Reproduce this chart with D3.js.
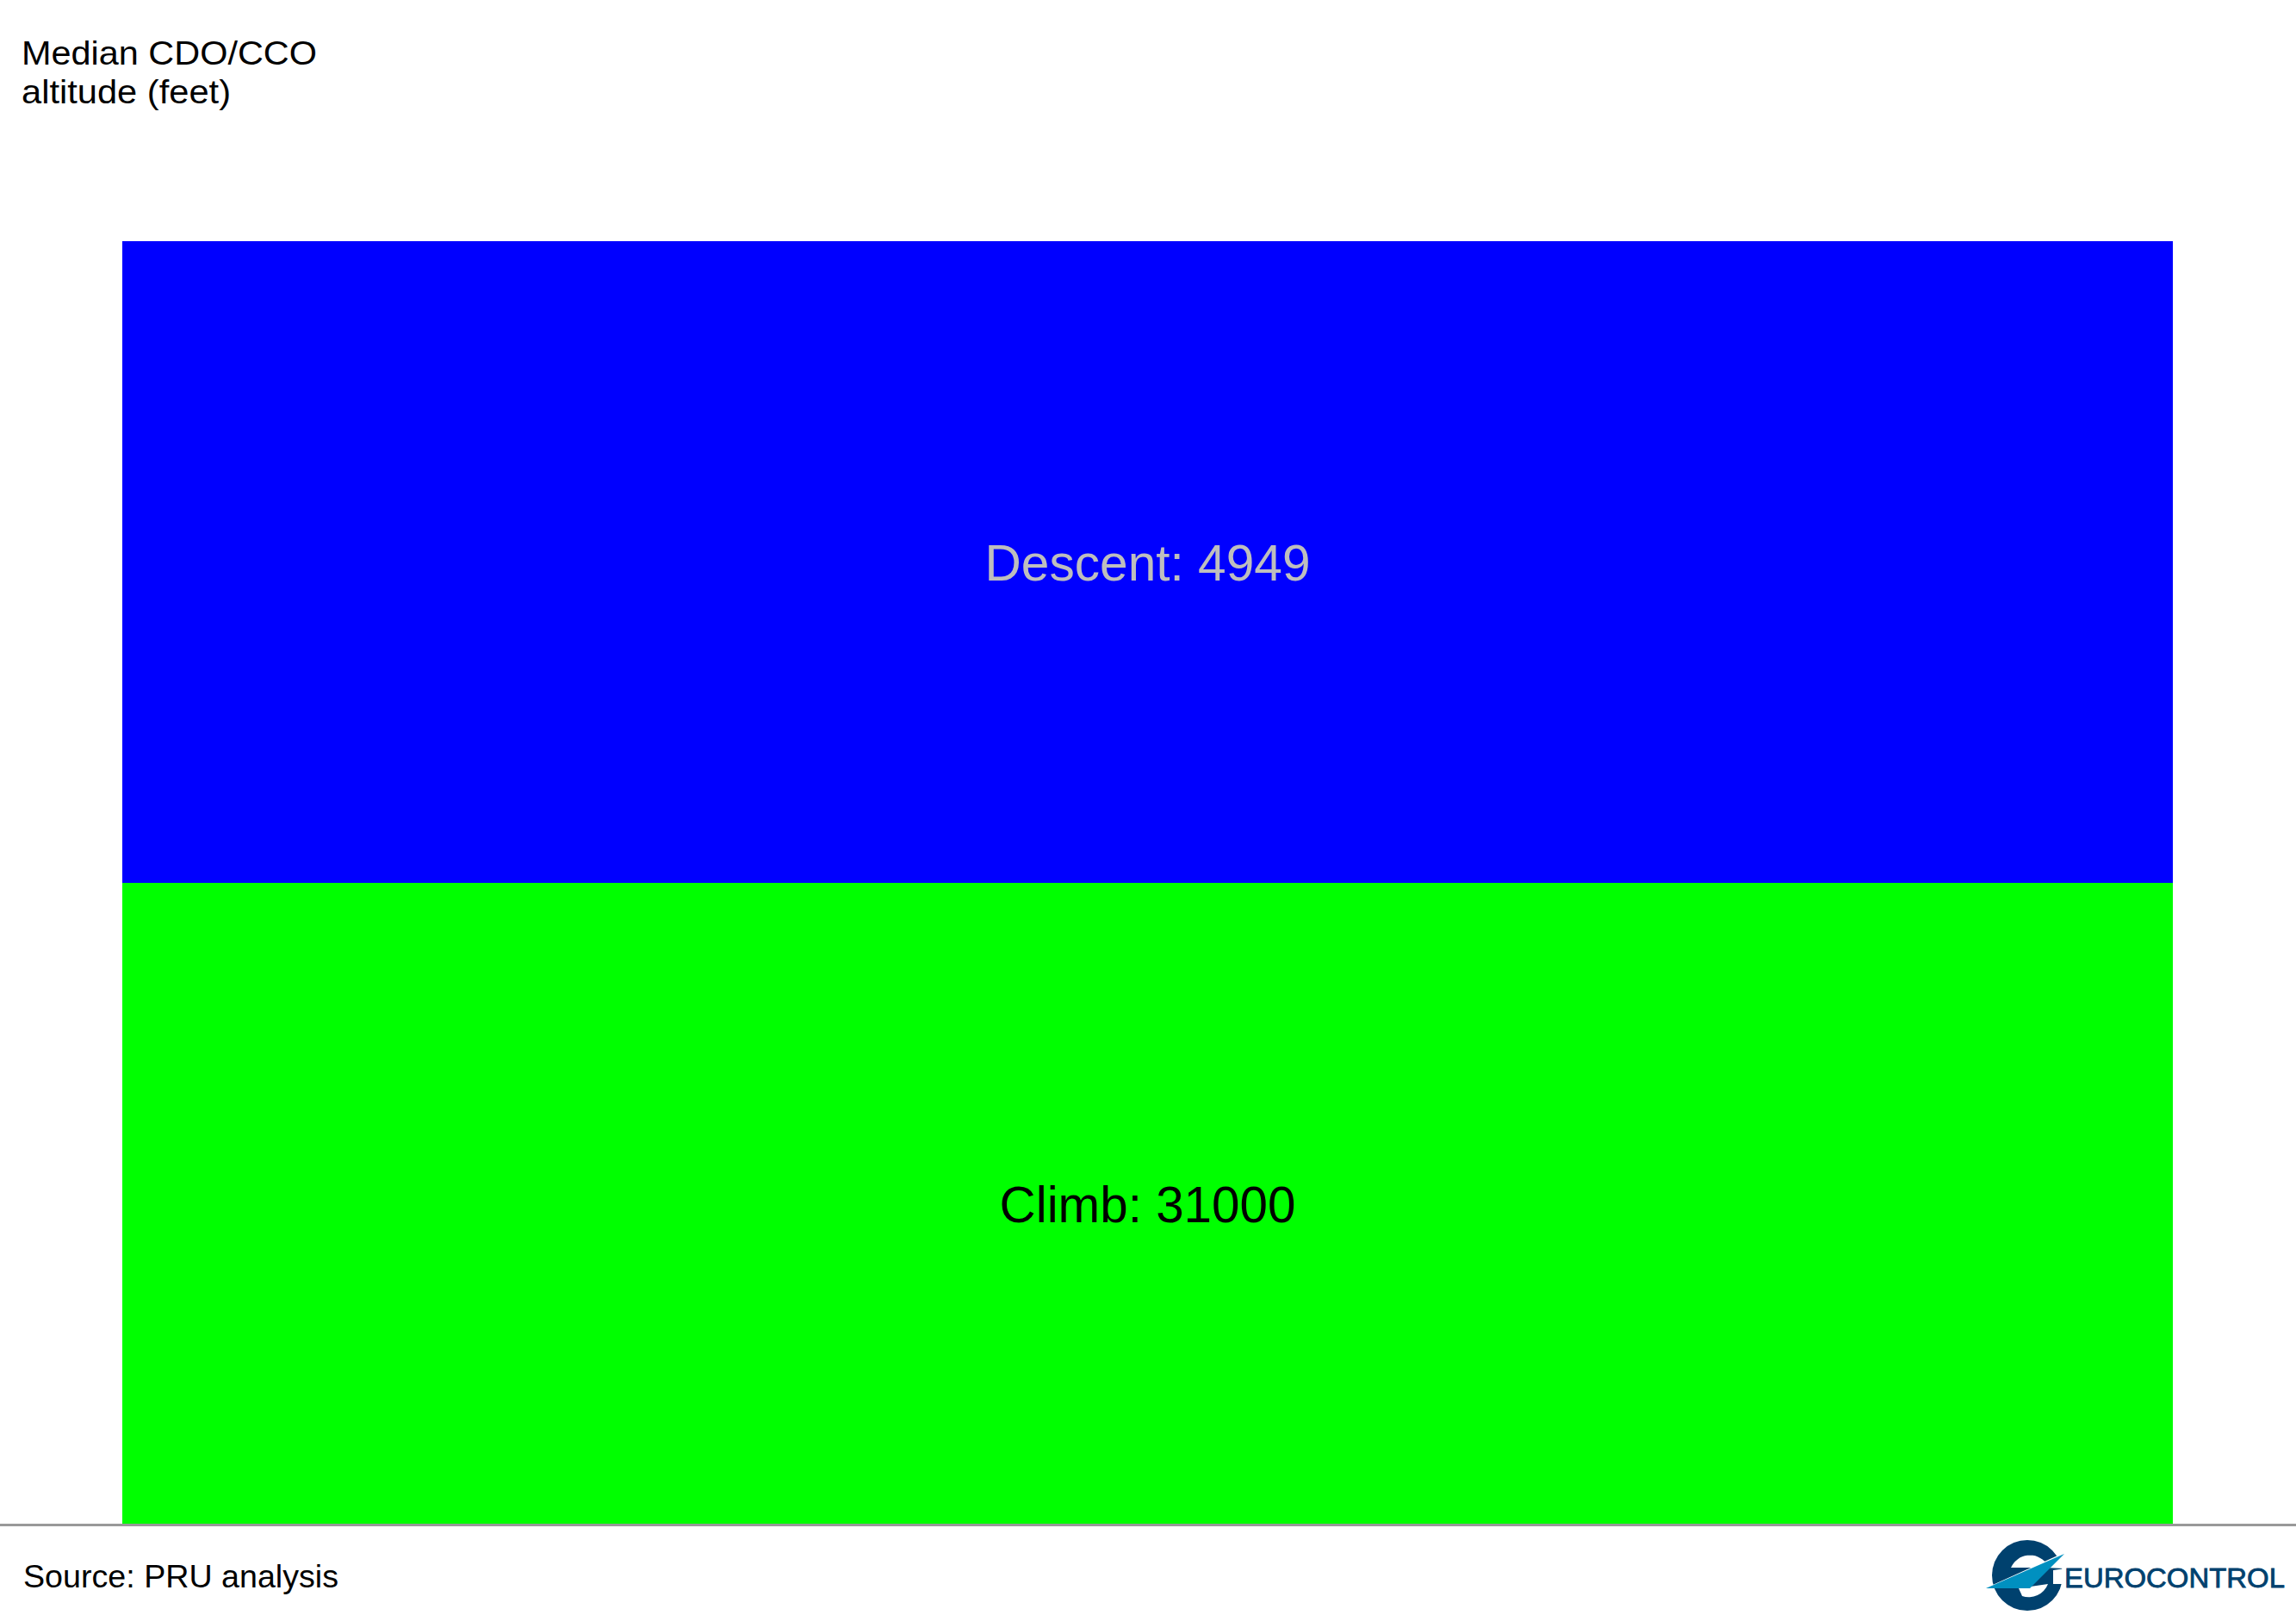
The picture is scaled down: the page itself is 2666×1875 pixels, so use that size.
<!DOCTYPE html>
<html>
<head>
<meta charset="utf-8">
<script src="https://cdn.jsdelivr.net/npm/d3@7"></script>
<style>
  html, body { margin: 0; padding: 0; background: #ffffff; }
  svg { display: block; }
</style>
</head>
<body>
<script>
// ---- data ----
const categories = ["Descent", "Climb"];
const values = [4949, 31000];
const tileColors = ["#0000FF", "#00FF00"];
const labelColors = ["#BEBEBE", "#000000"];
const titleLines = ["Median CDO/CCO", "altitude (feet)"];
const sourceText = "Source: PRU analysis";

const W = 2666, H = 1875;
const svg = d3.select("body").append("svg").attr("width", W).attr("height", H);
svg.append("rect").attr("width", W).attr("height", H).attr("fill", "#fff");

const x = d3.scaleLinear().domain([0, 1]).range([142, 2523]);
const y = d3.scaleBand().domain(categories).range([280, 1770]).padding(0);

const rows = categories.map((c, i) => ({ cat: c, value: values[i], fill: tileColors[i], lab: labelColors[i] }));
const labelWidths = { Descent: 378, Climb: 344 };

svg.selectAll("rect.tile").data(rows).join("rect")
  .attr("class", "tile")
  .attr("x", x(0)).attr("width", x(1) - x(0))
  .attr("y", d => y(d.cat)).attr("height", y.bandwidth())
  .attr("fill", d => d.fill);

svg.selectAll("text.lab").data(rows).join("text")
  .attr("class", "lab")
  .attr("x", (x(0) + x(1)) / 2)
  .attr("y", d => y(d.cat) + y.bandwidth() / 2 + 21)
  .attr("text-anchor", "middle")
  .attr("font-family", "Liberation Sans, Arial, sans-serif")
  .attr("font-size", 59)
  .attr("fill", d => d.lab)
  .attr("textLength", d => labelWidths[d.cat]).attr("lengthAdjust", "spacingAndGlyphs")
  .text(d => `${d.cat}: ${d.value}`);

// title
const titleWidths = [343, 243];
svg.selectAll("text.title").data(titleLines).join("text")
  .attr("class", "title")
  .attr("x", 25).attr("y", (d, i) => 75 + i * 45)
  .attr("font-family", "Liberation Sans, Arial, sans-serif")
  .attr("font-size", 39).attr("fill", "#000")
  .attr("textLength", (d, i) => titleWidths[i]).attr("lengthAdjust", "spacingAndGlyphs")
  .text(d => d);

// footer line
svg.append("line").attr("x1", 0).attr("x2", W).attr("y1", 1770.5).attr("y2", 1770.5)
  .attr("stroke", "#999999").attr("stroke-width", 3);

svg.append("text").attr("x", 27).attr("y", 1843)
  .attr("font-family", "Liberation Sans, Arial, sans-serif")
  .attr("font-size", 37).attr("fill", "#000")
  .attr("textLength", 366).attr("lengthAdjust", "spacingAndGlyphs")
  .text(sourceText);

// logo
const logo = svg.append("g");
const cx = 2354, cy = 1829;
logo.append("circle").attr("cx", cx).attr("cy", cy).attr("r", 41).attr("fill", "#00416E");
logo.append("path").attr("fill", "#fff")
  .attr("d", `M${cx-19},${cy-9} A24,24 0 0 1 ${cx+22},${cy-14} L${cx+30},${cy-18} L${cx+44},${cy-26} L${cx+44},${cy-8} L${cx+20},${cy-9} Z`);
logo.append("path").attr("fill", "#fff")
  .attr("d", `M${cx-10},${cy+15} L${cx+24},${cy+10} A24,24 0 0 1 ${cx-6},${cy+24} Z`);
logo.append("path").attr("fill", "#fff")
  .attr("d", `M${cx+30},${cy-6} L${cx+44},${cy-8} L${cx+44},${cy+10} L${cx+30},${cy+10} Z`);
logo.append("path").attr("fill", "#fff")
  .attr("d", `M${cx-50},${cy+15.5} L${cx+44},${cy-27} L${cx+43},${cy-24} L${cx-47},${cy+15.5} Z`);
logo.append("path").attr("fill", "#0090C0")
  .attr("d", `M${cx-48},${cy+15} L${cx+43},${cy-25} L${cx+3},${cy+15} Z`);
logo.append("text").attr("x", 2397).attr("y", 1843)
  .attr("font-family", "Liberation Sans Narrow, Liberation Sans, Arial, sans-serif")
  .attr("font-size", 32).attr("fill", "#00416E")
  .attr("stroke", "#00416E").attr("stroke-width", 0.8)
  .attr("textLength", 256).attr("lengthAdjust", "spacingAndGlyphs")
  .text("EUROCONTROL");
</script>
</body>
</html>
